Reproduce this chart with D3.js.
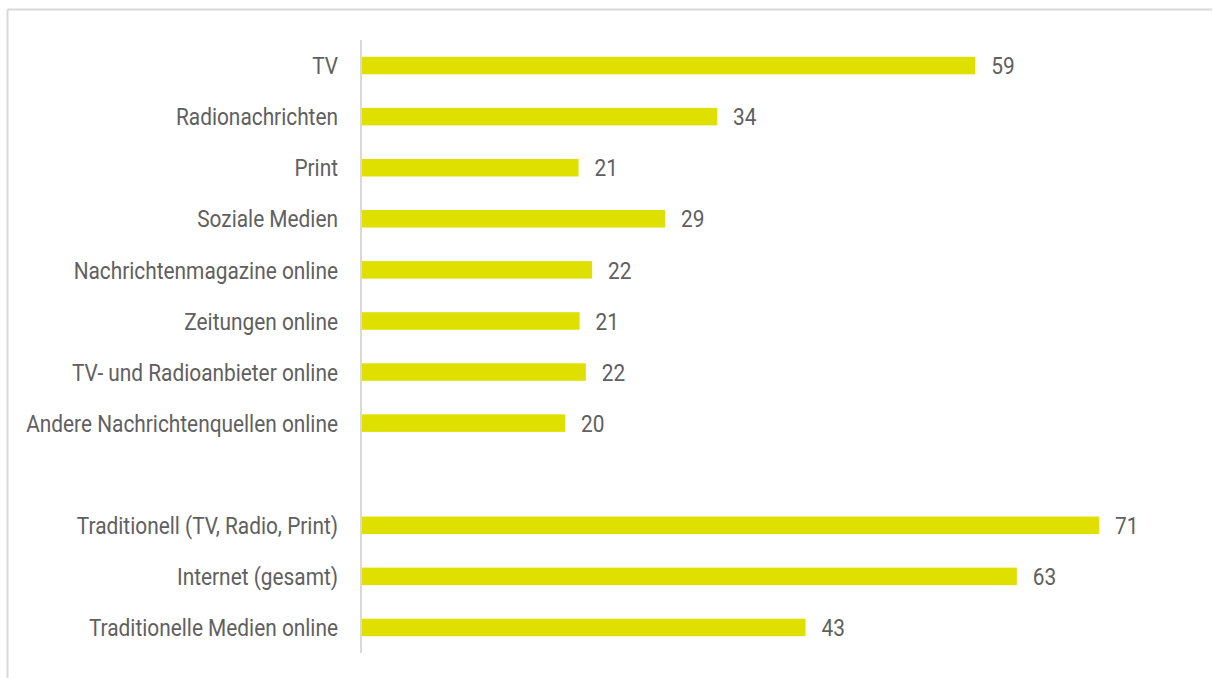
<!DOCTYPE html>
<html><head><meta charset="utf-8">
<script src="https://cdn.jsdelivr.net/npm/d3@7"></script>
<style>
html,body{margin:0;padding:0;background:#fff;}
svg{display:block;}
.lbl{font-family:"Roboto","DejaVu Sans Condensed",sans-serif;font-weight:400;fill:#606060;}
</style></head>
<body>
<svg id="chart" width="1213" height="678"></svg>
<script>
const categories = ["TV","Radionachrichten","Print","Soziale Medien","Nachrichtenmagazine online","Zeitungen online","TV- und Radioanbieter online","Andere Nachrichtenquellen online","","Traditionell (TV, Radio, Print)","Internet (gesamt)","Traditionelle Medien online"];
const values = [59.0,34.2,20.9,29.2,22.2,21.0,21.6,19.6,null,70.9,63.0,42.7];

const svg = d3.select("#chart");
const W = 1213, H = 678;
const fmt = d3.format(".0f");

// frame
svg.append("line").attr("x1",7.5).attr("x2",1212).attr("y1",9.5).attr("y2",9.5).attr("stroke","#d9d9d9").attr("stroke-width",2);
svg.append("line").attr("x1",7.5).attr("x2",7.5).attr("y1",9.5).attr("y2",H).attr("stroke","#d9d9d9").attr("stroke-width",2);

const x0 = 361;
const x = d3.scaleLinear().domain([0,71]).range([x0, x0 + 71*10.41]);
const y = d3.scaleBand().domain(categories.map((c,i)=>i)).range([40,653]).paddingInner(0.657).paddingOuter(0.3285);

const data = categories.map((c,i)=>({c, v:values[i], i}));

svg.append("g").selectAll("rect").data(data.filter(d=>d.v!=null)).join("rect")
  .attr("x", x(0)+1).attr("y", d=>y(d.i)).attr("height", y.bandwidth())
  .attr("width", d=>x(d.v)-x(0)-1).attr("fill","#dfdf00");

// axis line
svg.append("line").attr("x1",x0).attr("x2",x0).attr("y1",40).attr("y2",653).attr("stroke","#d9d9d9").attr("stroke-width",2);

const fs = 24;
const catG = svg.append("g").selectAll("g").data(data.filter(d=>d.c)).join("g");
const catT = catG.append("text")
  .attr("class","lbl").attr("dy","0.36em").attr("text-anchor","end").attr("font-size",fs).text(d=>d.c);

// condense text horizontally so the longest label spans the reference width
const longest = d3.max(catT.nodes(), n=>n.getComputedTextLength());
const sx = 312 / longest;
catG.attr("transform", d=>`translate(338,${y(d.i)+y.bandwidth()/2}) scale(${sx},1)`);

const valG = svg.append("g").selectAll("g").data(data.filter(d=>d.v!=null)).join("g")
  .attr("transform", d=>`translate(${x(d.v)+16},${y(d.i)+y.bandwidth()/2}) scale(${sx},1)`);
valG.append("text").attr("class","lbl").attr("dy","0.36em").attr("font-size",fs).text(d=>fmt(d.v));
</script>
</body></html>
